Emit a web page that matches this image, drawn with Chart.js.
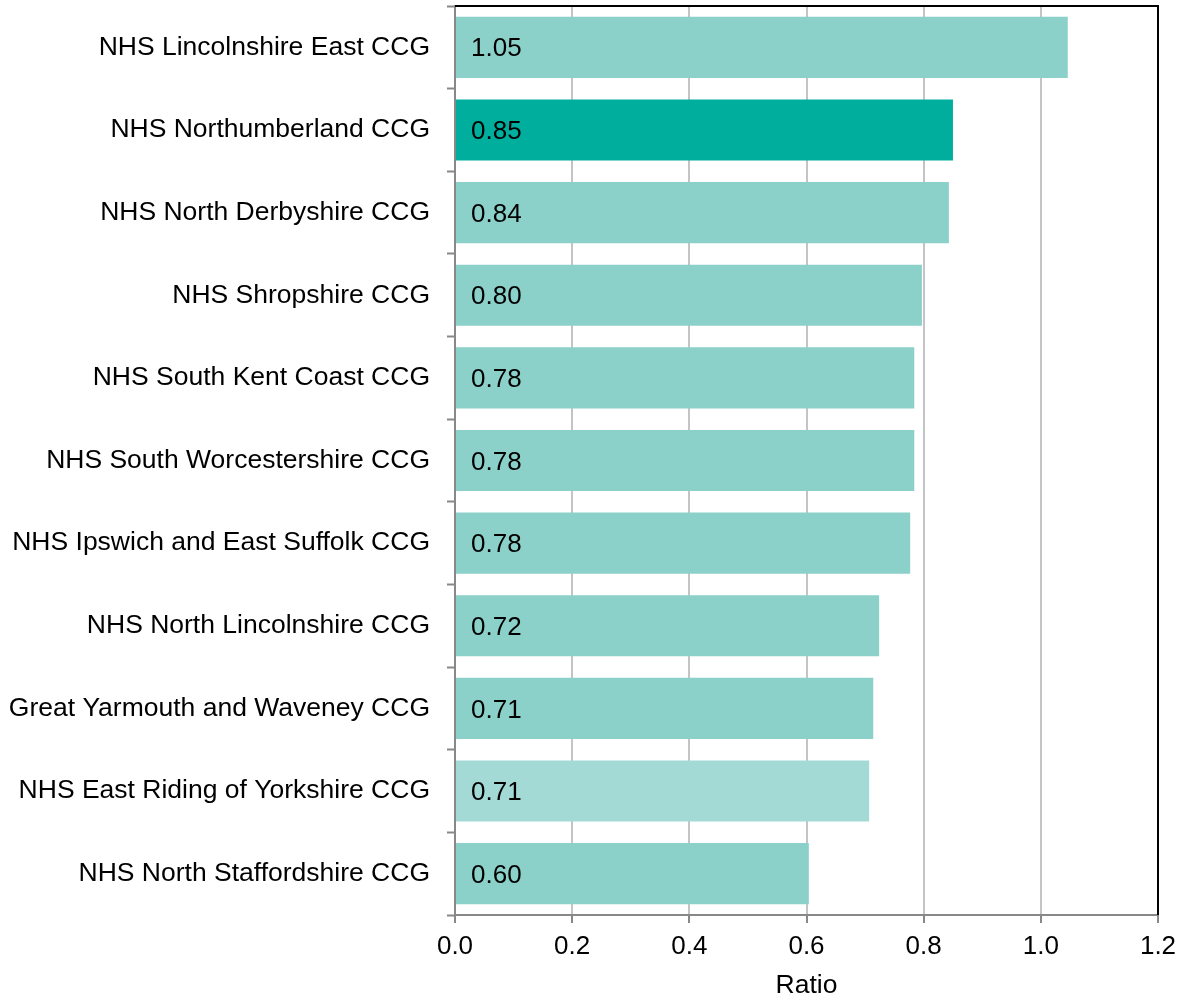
<!DOCTYPE html>
<html>
<head>
<meta charset="utf-8">
<script src="https://cdn.jsdelivr.net/npm/chart.js@4/dist/chart.umd.min.js"></script>
<style>
  html, body { margin: 0; padding: 0; background: #fff; }
  #wrap { width: 1180px; height: 998px; }
</style>
</head>
<body>
<div id="wrap"><canvas id="myChart"></canvas></div>
<script>
// Data
var categories = [
  "NHS Lincolnshire East CCG",
  "NHS Northumberland CCG",
  "NHS North Derbyshire CCG",
  "NHS Shropshire CCG",
  "NHS South Kent Coast CCG",
  "NHS South Worcestershire CCG",
  "NHS Ipswich and East Suffolk CCG",
  "NHS North Lincolnshire CCG",
  "Great Yarmouth and Waveney CCG",
  "NHS East Riding of Yorkshire CCG",
  "NHS North Staffordshire CCG"
];
var ratios = [1.046, 0.850, 0.843, 0.797, 0.784, 0.784, 0.777, 0.724, 0.714, 0.707, 0.604];
var ratioLabels = ["1.05", "0.85", "0.84", "0.80", "0.78", "0.78", "0.78", "0.72", "0.71", "0.71", "0.60"];
var xTicks = [0, 0.2, 0.4, 0.6, 0.8, 1.0, 1.2];

var FONT = "'Liberation Sans', Arial, sans-serif";
var barColors = categories.map(function (c) {
  if (c === "NHS Northumberland CCG") return '#00ae9e';
  if (c === "NHS East Riding of Yorkshire CCG") return '#a3dad5';
  return '#8bd1ca';
});

// value text inside each bar
var valueLabels = {
  id: 'valueLabels',
  afterDatasetsDraw: function (chart) {
    var ctx = chart.ctx;
    var meta = chart.getDatasetMeta(0);
    var x0 = chart.scales.x.getPixelForValue(0);
    ctx.save();
    ctx.font = '26px ' + FONT;
    ctx.fillStyle = '#000';
    ctx.textAlign = 'left';
    ctx.textBaseline = 'middle';
    meta.data.forEach(function (bar, i) {
      ctx.fillText(ratioLabels[i], x0 + 16, bar.y + 2);
    });
    ctx.restore();
  }
};

// black frame on top and right of the plot
var frame = {
  id: 'frame',
  afterDraw: function (chart) {
    var a = chart.chartArea;
    var ctx = chart.ctx;
    ctx.save();
    ctx.strokeStyle = '#000';
    ctx.lineWidth = 2;
    ctx.beginPath();
    ctx.moveTo(a.left, a.top);
    ctx.lineTo(a.right, a.top);
    ctx.lineTo(a.right, a.bottom);
    ctx.stroke();
    ctx.restore();
  }
};

var ctx = document.getElementById('myChart');
var myChart = new Chart(ctx, {
  type: 'bar',
  data: {
    labels: categories,
    datasets: [{
      data: ratios,
      backgroundColor: barColors,
      borderWidth: 0,
      categoryPercentage: 1,
      barPercentage: 0.74
    }]
  },
  plugins: [valueLabels, frame],
  options: {
    indexAxis: 'y',
    responsive: true,
    maintainAspectRatio: false,
    animation: false,
    events: [],
    layout: { padding: { top: 6, right: 22, left: 0, bottom: -4 } },
    plugins: {
      legend: { display: false },
      tooltip: { enabled: false }
    },
    scales: {
      y: {
        type: 'category',
        offset: true,
        afterFit: function (s) {
          s.width = 455;
          s.paddingTop = 0;
          s.paddingBottom = 0;
        },
        grid: {
          offset: true,
          drawOnChartArea: false,
          drawTicks: true,
          tickLength: 8,
          tickColor: '#888',
          tickWidth: 2
        },
        border: { color: '#888', width: 2 },
        ticks: {
          color: '#000',
          padding: 17,
          font: { family: FONT, size: 26.5 }
        }
      },
      x: {
        type: 'linear',
        min: 0,
        max: 1.2,
        afterFit: function (s) {
          s.height = 87;
          s.paddingLeft = 0;
          s.paddingRight = 0;
        },
        afterBuildTicks: function (s) {
          s.ticks = xTicks.map(function (v) { return { value: v }; });
        },
        grid: {
          color: '#c4c4c4',
          lineWidth: 2,
          tickLength: 8,
          tickColor: '#888',
          tickWidth: 2
        },
        border: { color: '#888', width: 2 },
        ticks: {
          color: '#000',
          padding: 8,
          font: { family: FONT, size: 26 },
          callback: function (v) { return Number(v).toFixed(1); }
        },
        title: {
          display: true,
          text: 'Ratio',
          color: '#000',
          padding: { top: 0, bottom: 0 },
          font: { family: FONT, size: 26.5 }
        }
      }
    }
  }
});
</script>
</body>
</html>
